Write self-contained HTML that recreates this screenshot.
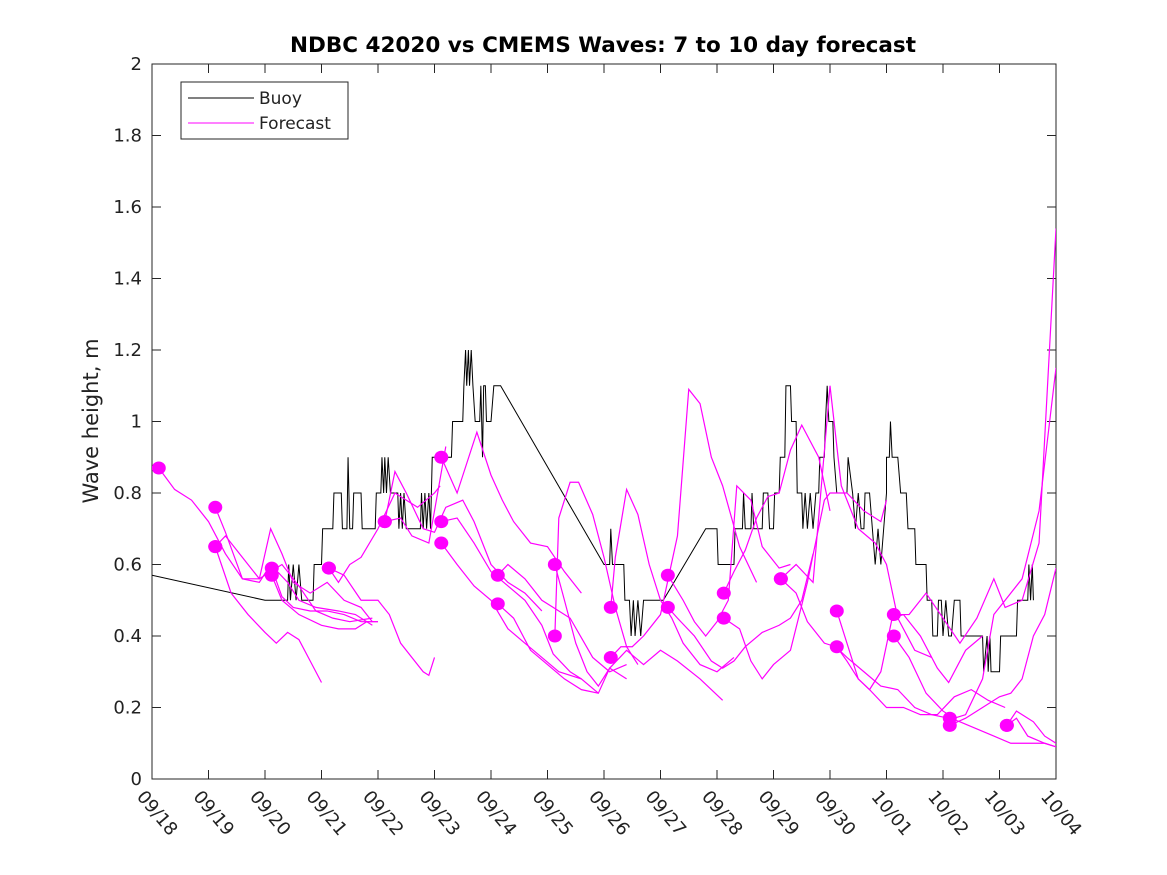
<!DOCTYPE html>
<html><head><meta charset="utf-8"><style>
body{margin:0;background:#fff;}
svg{display:block;font-family:"DejaVu Sans","Liberation Sans",sans-serif;}
</style></head><body>
<svg id="chart" width="1167" height="875" viewBox="0 0 1167 875">
<rect width="1167" height="875" fill="#fff"/>
<text x="603" y="52" text-anchor="middle" font-size="21.5" font-weight="bold" fill="#000">NDBC 42020 vs CMEMS Waves: 7 to 10 day forecast</text>
<text transform="translate(98,421) rotate(-90)" text-anchor="middle" font-size="21" fill="#222">Wave height, m</text>
<rect x="152" y="64" width="904" height="715" fill="none" stroke="#262626" stroke-width="1"/>
<g id="axes"></g>
<g id="series" clip-path="url(#clip)"></g>
<defs><clipPath id="clip"><rect x="152" y="64" width="904" height="715"/></clipPath></defs>
<g>
<rect x="181" y="82" width="167" height="57" fill="#fff" stroke="#262626"/>
<line x1="188" y1="98" x2="254" y2="98" stroke="#000"/>
<text x="259" y="104" font-size="17" fill="#222">Buoy</text>
<line x1="188" y1="123" x2="254" y2="123" stroke="#f0f"/>
<text x="259" y="129" font-size="17" fill="#222">Forecast</text>
</g>
</svg>
<script>
const xLabels=["09/18","09/19","09/20","09/21","09/22","09/23","09/24","09/25","09/26","09/27","09/28","09/29","09/30","10/01","10/02","10/03","10/04"];
const yTicks=[0,0.2,0.4,0.6,0.8,1,1.2,1.4,1.6,1.8,2];
const buoy=[[0,.57],[2.0,.50],[2.4,.50],[2.42,.6],[2.45,.5],[2.5,.6],[2.55,.5],[2.6,.6],[2.65,.5],[2.85,.5],[2.87,.6],[3.0,.6],[3.02,.7],[3.2,.7],[3.22,.8],[3.35,.8],[3.37,.7],[3.45,.7],[3.47,.9],[3.5,.7],[3.55,.7],[3.57,.8],[3.7,.8],[3.72,.7],[3.95,.7],[3.97,.8],[4.05,.8],[4.07,.9],[4.1,.8],[4.12,.9],[4.15,.8],[4.18,.9],[4.22,.8],[4.35,.8],[4.37,.7],[4.4,.8],[4.43,.7],[4.46,.8],[4.5,.7],[4.75,.7],[4.77,.8],[4.8,.7],[4.83,.8],[4.86,.7],[4.9,.8],[4.93,.7],[4.96,.9],[5.0,.9],[5.3,.9],[5.32,1.0],[5.5,1.0],[5.52,1.1],[5.55,1.2],[5.57,1.1],[5.6,1.2],[5.62,1.1],[5.65,1.2],[5.68,1.1],[5.72,1.0],[5.8,1.0],[5.82,1.1],[5.85,.9],[5.87,1.1],[5.9,1.1],[5.92,1.0],[6.0,1.0],[6.05,1.1],[6.17,1.1],[8.0,.6],[8.1,.6],[8.12,.7],[8.15,.6],[8.35,.6],[8.37,.5],[8.45,.5],[8.48,.4],[8.52,.5],[8.55,.4],[8.6,.5],[8.65,.4],[8.7,.5],[8.9,.5],[9.05,.5],[9.8,.7],[10.0,.7],[10.02,.6],[10.3,.6],[10.32,.7],[10.45,.7],[10.47,.8],[10.5,.7],[10.6,.7],[10.62,.8],[10.65,.7],[10.8,.7],[10.82,.8],[10.9,.8],[10.93,.7],[11.0,.7],[11.02,.8],[11.1,.8],[11.12,.9],[11.2,.9],[11.22,1.1],[11.3,1.1],[11.32,1.0],[11.4,1.0],[11.42,.8],[11.5,.8],[11.52,.7],[11.56,.8],[11.6,.7],[11.65,.8],[11.7,.7],[11.75,.8],[11.8,.8],[11.82,.9],[11.9,.9],[11.92,1.0],[11.95,1.1],[11.98,1.0],[12.05,1.0],[12.07,.9],[12.12,.8],[12.3,.8],[12.32,.9],[12.4,.8],[12.45,.7],[12.5,.8],[12.55,.7],[12.6,.7],[12.62,.8],[12.7,.8],[12.75,.7],[12.8,.6],[12.85,.7],[12.9,.6],[12.95,.7],[13.0,.8],[13.0,.9],[13.05,.9],[13.07,1.0],[13.1,.9],[13.2,.9],[13.25,.8],[13.35,.8],[13.38,.7],[13.5,.7],[13.52,.6],[13.7,.6],[13.72,.5],[13.8,.5],[13.82,.4],[13.9,.4],[13.92,.5],[13.97,.5],[14.0,.4],[14.05,.5],[14.1,.4],[14.15,.4],[14.2,.5],[14.3,.5],[14.32,.4],[14.7,.4],[14.72,.3],[14.78,.4],[14.8,.3],[14.83,.4],[14.85,.3],[15.0,.3],[15.02,.4],[15.3,.4],[15.32,.5],[15.5,.5],[15.52,.6],[15.55,.5],[15.58,.6],[15.6,.5]];
const forecasts=[
[[.12,.87],[.4,.81],[.7,.78],[1.0,.72],[1.3,.63],[1.6,.56],[1.9,.55],[2.1,.6],[2.4,.55],[2.6,.50],[2.9,.48],[3.3,.47],[3.6,.46],[3.9,.43]],
[[1.12,.76],[1.3,.69],[1.6,.56],[1.9,.56],[2.1,.70],[2.3,.63],[2.5,.55],[2.8,.52],[3.1,.55],[3.4,.50],[3.7,.48],[3.9,.44]],
[[1.12,.65],[1.3,.68],[1.6,.62],[1.9,.56],[2.1,.58],[2.3,.6],[2.6,.54],[2.9,.47],[3.2,.45],[3.5,.44],[3.9,.45]],
[[1.12,.65],[1.4,.52],[1.7,.46],[2.0,.41],[2.2,.38],[2.4,.41],[2.6,.39],[2.8,.33],[3.0,.27]],
[[2.12,.59],[2.3,.51],[2.5,.48],[2.8,.47],[3.1,.47],[3.4,.46],[3.7,.44],[4.0,.44]],
[[2.12,.57],[2.3,.50],[2.6,.46],[3.0,.43],[3.3,.42],[3.6,.42],[3.8,.44],[4.0,.44]],
[[3.13,.59],[3.4,.57],[3.7,.50],[4.0,.50],[4.2,.46],[4.4,.38],[4.6,.34],[4.8,.30],[4.9,.29],[5.0,.34]],
[[3.13,.59],[3.3,.55],[3.5,.60],[3.7,.62],[4.0,.70],[4.3,.80],[4.5,.78],[4.7,.76],[5.0,.80],[5.1,.82]],
[[4.12,.72],[4.4,.73],[4.6,.68],[4.9,.66],[5.1,.84],[5.2,.93]],
[[4.12,.72],[4.3,.86],[4.5,.80],[4.8,.70],[5.0,.69],[5.2,.76],[5.5,.78],[5.7,.72],[6.0,.6],[6.3,.55],[6.6,.52],[6.9,.47]],
[[5.12,.72],[5.4,.73],[5.7,.66],[6.0,.58],[6.3,.54],[6.6,.50],[6.9,.43],[7.1,.35],[7.4,.30],[7.6,.28]],
[[5.12,.66],[5.4,.60],[5.7,.54],[6.0,.50],[6.3,.42],[6.6,.38],[6.9,.34],[7.2,.30],[7.6,.28],[7.9,.24]],
[[5.12,.90],[5.4,.80],[5.75,.97],[6.0,.85],[6.2,.78],[6.4,.72],[6.7,.66],[7.0,.65],[7.3,.58],[7.6,.52]],
[[6.12,.57],[6.3,.60],[6.6,.56],[6.9,.50],[7.1,.48],[7.4,.45],[7.8,.34],[8.1,.30],[8.4,.32]],
[[6.12,.49],[6.4,.45],[6.7,.36],[7.0,.32],[7.3,.28],[7.6,.25],[7.9,.24],[8.1,.31],[8.4,.28]],
[[7.13,.60],[7.3,.50],[7.5,.38],[7.7,.30],[7.9,.26],[8.1,.31],[8.4,.36],[8.7,.32],[9.0,.36],[9.3,.33],[9.7,.28],[10.1,.22]],
[[7.13,.40],[7.2,.73],[7.4,.83],[7.55,.83],[7.8,.74],[8.0,.62],[8.2,.48],[8.4,.37],[8.6,.32]],
[[8.12,.48],[8.2,.62],[8.4,.81],[8.6,.74],[8.8,.60],[9.0,.50],[9.2,.45],[9.4,.38],[9.7,.32],[10.0,.30],[10.3,.34]],
[[8.12,.34],[8.3,.37],[8.5,.37],[8.7,.40],[9.0,.46],[9.3,.68],[9.5,1.09],[9.7,1.05],[9.9,.90],[10.1,.82],[10.4,.65],[10.7,.55]],
[[9.13,.57],[9.4,.50],[9.6,.44],[9.8,.40],[10.0,.44],[10.2,.50],[10.35,.82],[10.6,.78],[10.8,.65],[11.1,.59],[11.3,.60]],
[[9.13,.48],[9.3,.45],[9.6,.40],[9.9,.33],[10.1,.31],[10.3,.33],[10.5,.37],[10.8,.41],[11.1,.43],[11.3,.45],[11.5,.50],[11.7,.63]],
[[10.12,.52],[10.3,.58],[10.5,.64],[10.7,.73],[10.9,.79],[11.1,.80],[11.3,.92],[11.5,.99],[11.8,.90],[12.0,.75]],
[[10.12,.45],[10.4,.42],[10.6,.33],[10.8,.28],[11.0,.32],[11.3,.36],[11.6,.55],[11.9,.78],[12.0,.80],[12.3,.80],[12.6,.75],[12.9,.72],[13.0,.78]],
[[11.13,.56],[11.4,.52],[11.6,.44],[11.9,.38],[12.1,.37],[12.3,.34],[12.6,.30],[12.9,.26],[13.2,.25],[13.5,.20],[13.8,.18],[14.1,.17]],
[[11.13,.56],[11.4,.60],[11.7,.55],[12.0,1.10],[12.2,.82],[12.5,.70],[12.8,.66],[13.0,.60],[13.2,.45],[13.5,.36],[13.8,.34]],
[[12.12,.47],[12.3,.38],[12.5,.28],[12.7,.25],[13.0,.20],[13.3,.20],[13.6,.18],[13.9,.18],[14.2,.23],[14.5,.25],[14.8,.22],[15.1,.20]],
[[12.12,.37],[12.3,.33],[12.5,.28],[12.7,.25],[12.9,.30],[13.1,.45],[13.3,.46],[13.6,.40],[13.9,.31],[14.1,.27],[14.4,.36],[14.7,.40]],
[[13.13,.46],[13.4,.46],[13.7,.52],[14.0,.45],[14.3,.38],[14.6,.45],[14.9,.56],[15.1,.48],[15.4,.50],[15.7,.66],[16.0,1.54]],
[[13.13,.40],[13.4,.34],[13.7,.24],[14.0,.19],[14.2,.17],[14.4,.18],[14.7,.28],[14.9,.46],[15.1,.50],[15.4,.56],[15.7,.75],[16.0,1.15]],
[[14.12,.17],[14.3,.16],[14.6,.14],[14.9,.12],[15.2,.10],[15.5,.10],[15.8,.10],[16.0,.09]],
[[14.12,.15],[14.4,.17],[14.7,.20],[15.0,.23],[15.2,.24],[15.4,.28],[15.6,.40],[15.8,.46],[16.0,.59]],
[[15.13,.15],[15.3,.19],[15.6,.16],[15.8,.12],[16.0,.10]],
[[15.13,.15],[15.3,.17],[15.5,.12],[15.8,.10],[16.0,.09]]
];
const NS="http://www.w3.org/2000/svg";
const X0=152,X1=1056,Y0=779,Y1=64,XMAX=16,YMAX=2;
function xs(t){return X0+(X1-X0)*t/XMAX;}
function ys(v){return Y0-(Y0-Y1)*v/YMAX;}
const axes=document.getElementById('axes');
const ser=document.getElementById('series');
yTicks.forEach((v,i)=>{
  const y=ys(v);
  const l=document.createElementNS(NS,'path');
  l.setAttribute('d',`M${X0} ${y}h9M${X1} ${y}h-9`);
  l.setAttribute('stroke','#262626');
  
  
  axes.appendChild(l);
  const t=document.createElementNS(NS,'text');
  t.setAttribute('x',X0-10);t.setAttribute('y',y+6);
  t.setAttribute('text-anchor','end');t.setAttribute('font-size','18');t.setAttribute('fill','#222');
  t.textContent=String(v);
  
  
  axes.appendChild(t);
});
xLabels.forEach((s,i)=>{
  const x=xs(i);
  const l=document.createElementNS(NS,'path');
  l.setAttribute('d',`M${x} ${Y0}v-9M${x} ${Y1}v9`);
  l.setAttribute('stroke','#262626');
  
  
  axes.appendChild(l);
  const t=document.createElementNS(NS,'text');
  t.setAttribute('transform',`translate(${x-16},${Y0+18}) rotate(50)`);
  t.setAttribute('font-size','18');t.setAttribute('fill','#222');
  t.textContent=s;
  
  
  axes.appendChild(t);
});
const b=document.createElementNS(NS,'polyline');
b.setAttribute('points',buoy.map(p=>xs(p[0])+','+ys(p[1])).join(' '));
b.setAttribute('fill','none');b.setAttribute('stroke','#000');b.setAttribute('stroke-width','1');


ser.appendChild(b);
forecasts.forEach((f,i)=>{
  const p=document.createElementNS(NS,'polyline');
  p.setAttribute('points',f.map(q=>xs(q[0])+','+ys(q[1])).join(' '));
  p.setAttribute('fill','none');p.setAttribute('stroke','#f0f');p.setAttribute('stroke-width','1.2');
  
  
  ser.appendChild(p);
});
forecasts.forEach((f,i)=>{
  const c=document.createElementNS(NS,'ellipse');
  c.setAttribute('cx',xs(f[0][0]));c.setAttribute('cy',ys(f[0][1]));
  c.setAttribute('rx','7');c.setAttribute('ry','6.5');c.setAttribute('fill','#f0f');
  
  
  ser.appendChild(c);
});
</script>
</body></html>
